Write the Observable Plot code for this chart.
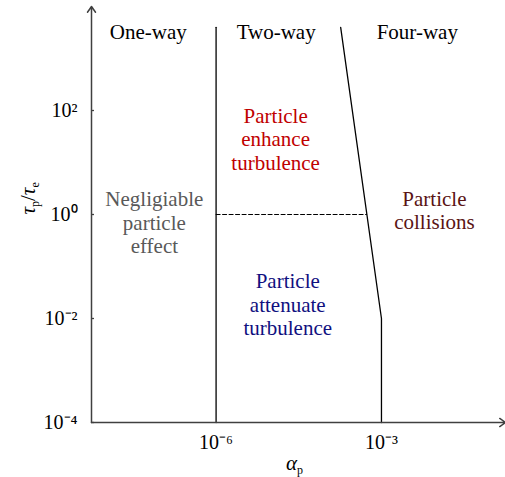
<!DOCTYPE html>
<html>
<head>
<meta charset="utf-8">
<script src="https://cdn.jsdelivr.net/npm/d3@7"></script>
<script src="https://cdn.jsdelivr.net/npm/@observablehq/plot@0.6"></script>
<style>
  html, body { margin: 0; padding: 0; background: #fff; }
  #chart svg, #chart svg text { font-family: "Liberation Serif", "Times New Roman", serif !important; }
</style>
</head>
<body>
<div id="chart"></div>
<script>
// Axis domains and ticks
const xDomain = [10 ** -8.26, 10 ** -0.75];
const yDomain = [1e-4, 1e4];
const xTicks = [1e-6, 1e-3];
const yTicks = [1e-4, 1e-2, 1, 1e2];

// Regime boundaries (alpha_p, tau_p/tau_e)
const oneTwoX = [1e-6, 1e-6];
const oneTwoY = [1e-4, 10 ** 3.6];
const twoFourX = [10 ** -3.74, 1e-3, 1e-3];
const twoFourY = [10 ** 3.6, 1e-2, 1e-4];
const dashX = [1e-6, 10 ** -3.27];
const dashY = [1, 1];

// Regime titles
const regimeNames = ["One-way", "Two-way", "Four-way"];
const regimeX = [10 ** -7.23, 10 ** -4.91, 10 ** -2.35];
const regimeY = [10 ** 3.5, 10 ** 3.5, 10 ** 3.5];

// Effect labels
const effectText = ["Negligiable\nparticle\neffect", "Particle\nenhance\nturbulence", "Particle\nattenuate\nturbulence", "Particle\ncollisions"];
const effectX = [10 ** -7.12, 10 ** -4.92, 10 ** -4.70, 10 ** -2.04];
const effectY = [10 ** -0.15, 10 ** 1.46, 10 ** -1.73, 10 ** 0.09];
const effectColor = ["#595959", "#c00000", "#10107f", "#5a1414"];

const pts = (xs, ys) => xs.map((x, i) => ({x, y: ys[i]}));
const sup = {"-": "\u207B", "0": "\u2070", "1": "\u00B9", "2": "\u00B2", "3": "\u00B3", "4": "\u2074", "5": "\u2075", "6": "\u2076", "7": "\u2077", "8": "\u2078", "9": "\u2079"};
const pow10 = d => "10" + String(Math.round(Math.log10(d))).split("").map(c => sup[c]).join("");

const serif = "Liberation Serif";
const axisColor = "#404040";

const chart = Plot.plot({
  width: 505,
  height: 477,
  marginLeft: 91,
  marginRight: 0,
  marginTop: 6,
  marginBottom: 55,
  style: {background: "#fff", color: "#000"},
  x: {type: "log", domain: xDomain, axis: null},
  y: {type: "log", domain: yDomain, axis: null},
  marks: [
    Plot.axisY({ticks: yTicks, tickFormat: pow10, tickSize: 3, dx: 3, tickPadding: 14, fontSize: 20, fontFamily: serif, stroke: axisColor, strokeWidth: 1.3, fill: "#000", label: null}),
    Plot.axisX({ticks: xTicks, tickFormat: pow10, tickSize: 0, tickPadding: 12, fontSize: 20, fontFamily: serif, fill: "#000", label: null}),
    Plot.line(pts(oneTwoX, oneTwoY), {x: "x", y: "y", stroke: "#000", strokeWidth: 1.3}),
    Plot.line(pts(twoFourX, twoFourY), {x: "x", y: "y", stroke: "#000", strokeWidth: 1.3}),
    Plot.line(pts(dashX, dashY), {x: "x", y: "y", stroke: "#000", strokeWidth: 1.1, strokeDasharray: "4,2.5"}),
    Plot.arrow([0], {x1: () => xDomain[0], y1: () => yDomain[0], x2: () => xDomain[0], y2: () => yDomain[1], stroke: axisColor, strokeWidth: 1.5, headLength: 7, headAngle: 70}),
    Plot.arrow([0], {x1: () => xDomain[0], y1: () => yDomain[0], x2: () => xDomain[1], y2: () => yDomain[0], stroke: axisColor, strokeWidth: 1.5, headLength: 7, headAngle: 70}),
    Plot.text(regimeNames, {x: (d, i) => regimeX[i], y: (d, i) => regimeY[i], text: d => d, fontSize: 21, fontFamily: serif, fill: "#000", lineAnchor: "middle"}),
    Plot.text(effectText, {x: (d, i) => effectX[i], y: (d, i) => effectY[i], text: d => d, fill: (d, i) => effectColor[i], fontSize: 21, fontFamily: serif, lineHeight: 1.12, lineAnchor: "middle"}),
    Plot.text(["ylabel"], {frameAnchor: "left", dx: -63, rotate: -90, text: d => d, fontSize: 21, fontFamily: serif, lineAnchor: "middle", className: "ylab"}),
    Plot.text(["xlabel"], {frameAnchor: "bottom", dx: -4, dy: 41, text: d => d, fontSize: 21, fontFamily: serif, lineAnchor: "middle", className: "xlab"})
  ]
});

document.getElementById("chart").appendChild(chart);

// Rich text for axis labels (italic Greek with subscripts)
function richLabel(sel, parts) {
  const t = d3.select(chart).select(sel + " text");
  t.text(null);
  parts.forEach(p => {
    const ts = t.append("tspan").text(p.t);
    if (p.italic) ts.attr("font-style", "italic");
    if (p.sub) ts.attr("font-size", "12").attr("baseline-shift", "-30%");
  });
}
richLabel(".ylab", [{t: "\u03C4", italic: true}, {t: "p", sub: true}, {t: "/"}, {t: "\u03C4", italic: true}, {t: "e", sub: true}]);
richLabel(".xlab", [{t: "\u03B1", italic: true}, {t: "p", sub: true}]);
</script>
</body>
</html>
